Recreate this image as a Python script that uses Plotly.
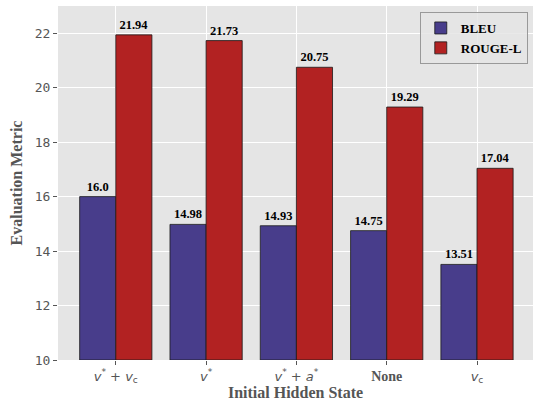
import plotly.graph_objects as go

categories = ["v*+v_c", "v*", "v*+a*", "None", "v_c"]
tick_labels = [
    "<i>v</i><sup>*</sup> + <i>v</i><sub>c</sub>",
    "<i>v</i><sup>*</sup>",
    "<i>v</i><sup>*</sup> + <i>a</i><sup>*</sup>",
    "<span style=\"font-family:'Liberation Serif';font-weight:bold;font-size:14px\">None</span>",
    "<i>v</i><sub>c</sub>",
]
bleu = [16.0, 14.98, 14.93, 14.75, 13.51]
rouge = [21.94, 21.73, 20.75, 19.29, 17.04]
y_ticks = [10, 12, 14, 16, 18, 20, 22]

x = list(range(len(categories)))
serif = "Liberation Serif"

fig = go.Figure()
fig.add_trace(go.Bar(
    x=x, y=[v - 10 for v in bleu], base=10, name="<b>BLEU</b>",
    width=0.4, offset=-0.4,
    marker=dict(color="#483D8B", line=dict(color="#1a1a1a", width=0.8)),
    text=[str(v) for v in bleu], texttemplate="<b>%{text}</b>",
    textposition="outside", cliponaxis=False,
    textfont=dict(family=serif, size=12.5, color="black"),
))
fig.add_trace(go.Bar(
    x=x, y=[v - 10 for v in rouge], base=10, name="<b>ROUGE-L</b>",
    width=0.4, offset=0,
    marker=dict(color="#B22222", line=dict(color="#1a1a1a", width=0.8)),
    text=[str(v) for v in rouge], texttemplate="<b>%{text}</b>",
    textposition="outside", cliponaxis=False,
    textfont=dict(family=serif, size=12.5, color="black"),
))

fig.update_layout(
    width=533, height=401,
    margin=dict(l=58, r=0, t=6, b=41),
    paper_bgcolor="white", plot_bgcolor="#E5E5E5",
    barmode="overlay",
    showlegend=True,
    legend=dict(
        x=0.989, y=0.983, xanchor="right", yanchor="top",
        bgcolor="rgba(229,229,229,0.85)", bordercolor="#999999", borderwidth=1,
        font=dict(family=serif, size=13, color="black"),
        tracegroupgap=2,
    ),
    xaxis=dict(
        range=[-0.64, 4.62], tickvals=x, ticktext=tick_labels,
        showgrid=True, gridcolor="white", gridwidth=1,
        ticks="outside", ticklen=4, tickcolor="#555555",
        tickfont=dict(family="DejaVu Sans", size=13, color="#555555"),
        zeroline=False,
        title=dict(text="<b>Initial Hidden State</b>",
                   font=dict(family=serif, size=16, color="#555555"), standoff=2),
    ),
    yaxis=dict(
        range=[10, 23], tickvals=y_ticks,
        showgrid=True, gridcolor="white", gridwidth=1,
        ticks="outside", ticklen=4, tickcolor="#555555",
        tickfont=dict(family="DejaVu Sans Mono", size=13, color="#555555"),
        zeroline=False,
        title=dict(text="<b>Evaluation Metric</b>",
                   font=dict(family=serif, size=16, color="#555555"), standoff=8),
    ),
)

fig.write_html("out.html", config={"displayModeBar": False})
with open("out.html", encoding="utf-8") as f:
    html = f.read()
html = html.replace("<head>", "<head><style>html,body{margin:0;padding:0;overflow:hidden;}</style>", 1)
with open("out.html", "w", encoding="utf-8") as f:
    f.write(html)
